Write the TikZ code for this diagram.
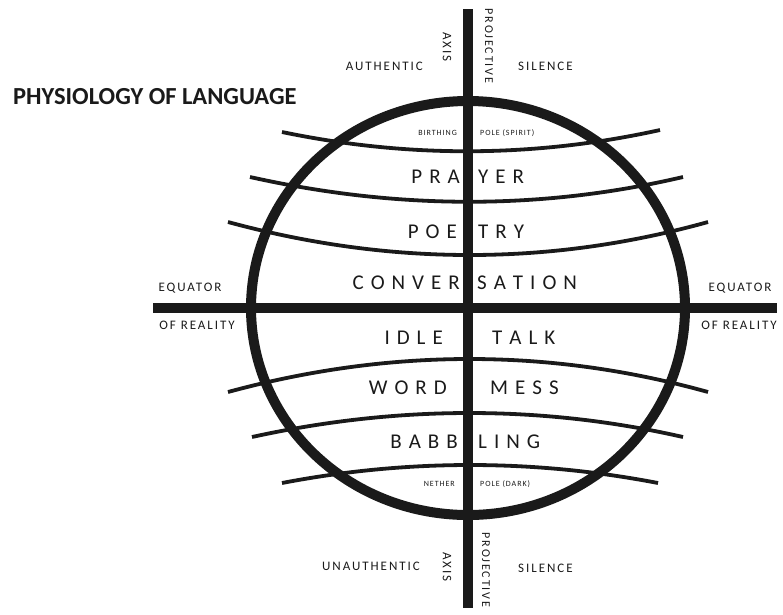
\documentclass[tikz,border=0pt]{standalone}
\usepackage{fontspec}
\setmainfont{Carlito}
\newfontfamily\labfont[LetterSpace=15]{Carlito}
\newfontfamily\tinyfont[LetterSpace=12]{Carlito}
\definecolor{ink}{HTML}{1A1A1A}
\newcommand\gapx{\kern7pt}
\begin{document}
\begin{tikzpicture}[x=1pt,y=-1pt,
  band/.style={draw=ink,line width=10pt},
  lat/.style={draw=ink,line width=3.8pt},
  bigword/.style={inner sep=0pt,text=ink,font=\fontsize{21}{21}\selectfont},
  lab/.style={inner sep=0pt,text=ink,font=\labfont\fontsize{13}{13}\selectfont},
  tinylab/.style={inner sep=0pt,text=ink,font=\tinyfont\fontsize{8}{8}\selectfont},
  titlelab/.style={inner sep=0pt,text=ink,font=\bfseries\fontsize{24.5}{24.5}\selectfont}]
\useasboundingbox (0,0) rectangle (783,614);
% latitude lines
\draw[lat] (282,132) .. controls (407,158) and (533,158) .. (660,130);
\draw[lat] (250,177) .. controls (398,210) and (542,210) .. (683,177);
\draw[lat] (228,222) .. controls (390,266) and (550,266) .. (708,222);
\draw[lat] (228,392) .. controls (390,348) and (550,348) .. (708,392);
\draw[lat] (252,437) .. controls (398,405) and (542,405) .. (683,437);
\draw[lat] (282,483) .. controls (407,459) and (533,459) .. (658,483);
% globe
\draw[band] (468,308) ellipse [x radius=217pt, y radius=207pt];
% equator and axis
\coordinate (eqL) at (153,308);
\coordinate (eqR) at (777,308);
\coordinate (axT) at (468,9);
\coordinate (axB) at (468,608);
\draw[band] (eqL) -- (eqR);
\draw[band] (axT) -- (axB);
% title
\node[titlelab,anchor=west] (title) at (13,97) {PHYSIOLOGY OF LANGUAGE};
% top labels
\node[lab,anchor=east] (auth) at (423,66) {AUTHENTIC};
\node[lab,anchor=west] (sil1) at (518,66) {SILENCE};
\node[lab,rotate=-90] (axis1) at (447,47) {AXIS};
\node[lab,rotate=-90,font=\labfont\fontsize{12}{12}\selectfont] (proj1) at (489,46) {PROJECTIVE};
% bottom labels
\node[lab,anchor=east] (unauth) at (420,566) {UNAUTHENTIC};
\node[lab,anchor=west] (sil2) at (518,568) {SILENCE};
\node[lab,rotate=-90] (axis2) at (447,567) {AXIS};
\node[lab,rotate=-90,font=\labfont\fontsize{12}{12}\selectfont] (proj2) at (486,570) {PROJECTIVE};
% equator labels
\node[lab] (eq1) at (190,288) {EQUATOR};
\node[lab] (re1) at (197,325) {OF REALITY};
\node[lab] (eq2) at (740,288) {EQUATOR};
\node[lab] (re2) at (739,325) {OF REALITY};
% poles
\node[tinylab,anchor=east] (birth) at (457,133) {BIRTHING};
\node[tinylab,anchor=west] (spirit) at (480,133) {POLE (SPIRIT)};
\node[tinylab,anchor=east] (nether) at (455,484) {NETHER};
\node[tinylab,anchor=west] (dark) at (480,484) {POLE (DARK)};
% words
\node[bigword,anchor=east] (w1l) at (460,177) {P\gapx R\gapx A};
\node[bigword,anchor=west] (w1r) at (478,177) {Y\gapx E\gapx R};
\node[bigword,anchor=east] (w2l) at (457,232) {P\gapx O\gapx E};
\node[bigword,anchor=west] (w2r) at (478,232) {T\gapx R\gapx Y};
\node[bigword,anchor=east] (w3l) at (460,283) {C\gapx O\gapx N\gapx V\gapx E\gapx R};
\node[bigword,anchor=west] (w3r) at (477,283) {S\gapx A\gapx T\gapx I\gapx O\gapx N};
\node[bigword,anchor=east] (w4l) at (443,338) {I\gapx D\gapx L\gapx E};
\node[bigword,anchor=west] (w4r) at (492,338) {T\gapx A\gapx L\gapx K};
\node[bigword,anchor=east] (w5l) at (447,388) {W\gapx O\gapx R\gapx D};
\node[bigword,anchor=west] (w5r) at (490,388) {M\gapx E\gapx S\gapx S};
\node[bigword,anchor=east] (w6l) at (458,442) {B\gapx A\gapx B\gapx B};
\node[bigword,anchor=west] (w6r) at (478,442) {L\gapx I\gapx N\gapx G};
\end{tikzpicture}
\end{document}
